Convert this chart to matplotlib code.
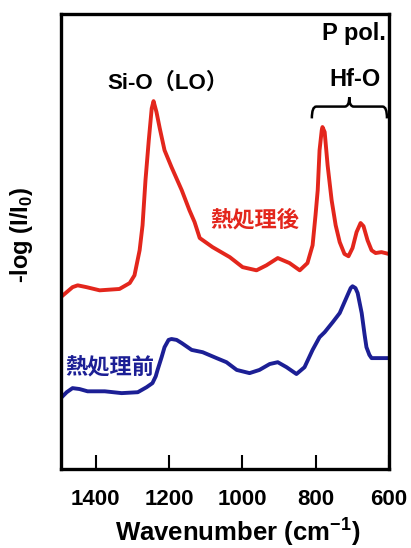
import matplotlib
matplotlib.use("Agg")
import matplotlib.pyplot as plt
from matplotlib.path import Path
from matplotlib.patches import PathPatch

plt.rcParams['font.family'] = ['Liberation Sans', 'Noto Sans CJK JP', 'DejaVu Sans']
plt.rcParams['font.weight'] = 'bold'
plt.rcParams['mathtext.fontset'] = 'custom'
plt.rcParams['mathtext.rm'] = 'Liberation Sans:bold'
plt.rcParams['mathtext.bf'] = 'Liberation Sans:bold'

# IR spectra (p-polarised), absorbance in arbitrary units
after_wn = [1495, 1479, 1463, 1449, 1425, 1389, 1335, 1307, 1294, 1280, 1272, 1264,
            1255, 1247, 1242, 1234, 1225, 1212, 1193, 1165, 1144, 1130, 1116, 1081,
            1034, 999, 961, 934, 903, 871, 843, 822, 808, 800, 794, 789, 783, 781,
            775, 767, 756, 745, 734, 721, 710, 699, 688, 677, 669, 658, 647, 636,
            620, 600]
after_abs = [0.378, 0.389, 0.400, 0.404, 0.400, 0.393, 0.396, 0.409, 0.426, 0.481, 0.536, 0.635,
             0.723, 0.793, 0.809, 0.785, 0.749, 0.701, 0.664, 0.613, 0.569, 0.543, 0.508, 0.488,
             0.466, 0.444, 0.437, 0.448, 0.464, 0.453, 0.437, 0.453, 0.492, 0.558, 0.613, 0.701, 0.745, 0.752,
             0.741, 0.668, 0.591, 0.536, 0.499, 0.473, 0.468, 0.486, 0.521, 0.541, 0.534, 0.503, 0.481, 0.475,
             0.477, 0.473]

before_wn = [1495, 1479, 1463, 1444, 1422, 1375, 1329, 1285, 1261, 1245, 1236, 1231,
             1220, 1212, 1201, 1193, 1179, 1165, 1138, 1108, 1070, 1043, 1015, 980,
             953, 925, 903, 879, 852, 830, 808, 789, 775, 753, 734, 715, 704, 699,
             691, 685, 674, 666, 661, 653, 647, 625, 600]
before_abs = [0.156, 0.169, 0.178, 0.176, 0.171, 0.171, 0.167, 0.169, 0.180, 0.189, 0.204, 0.218,
              0.246, 0.268, 0.284, 0.286, 0.284, 0.277, 0.262, 0.257, 0.244, 0.235, 0.218, 0.211,
              0.218, 0.231, 0.235, 0.224, 0.209, 0.224, 0.262, 0.290, 0.301, 0.323, 0.343, 0.378, 0.398, 0.402,
              0.398, 0.387, 0.343, 0.295, 0.268, 0.251, 0.244, 0.244, 0.244]

xticks = [1400, 1200, 1000, 800, 600]

red = '#e3261c'
blue = '#1c1f95'

fig = plt.figure(figsize=(4.11, 5.48), dpi=100)
ax = fig.add_axes([0.148, 0.144, 0.798, 0.830])

ax.plot(after_wn, after_abs, color=red, lw=2.8, solid_joinstyle='round', solid_capstyle='round')
ax.plot(before_wn, before_abs, color=blue, lw=2.8, solid_joinstyle='round', solid_capstyle='round')

ax.set_xlim(1495, 600)
ax.set_ylim(0, 1)

for s in ax.spines.values():
    s.set_linewidth(2.4)

ax.set_xticks(xticks)
ax.set_xticklabels([str(t) for t in xticks])
ax.tick_params(axis='x', direction='in', length=10, width=1.5, pad=14, labelsize=16)
ax.set_yticks([])

ax.set_xlabel('Wavenumber (cm$^{-1}$)', fontsize=18.5, fontweight='bold')
ax.xaxis.set_label_coords(0.54, -0.102)
ax.set_ylabel('-log (I/I$_0$)', fontsize=17, fontweight='bold')
ax.yaxis.set_label_coords(-0.078, 0.516)

# labels
ax.text(609, 0.958, 'P pol.', ha='right', va='center', fontsize=17, fontweight='bold')
ax.text(1204, 0.848, 'Si-O（LO）', ha='center', va='center', fontsize=16, fontweight='bold',
        family=['Liberation Sans', 'Noto Sans CJK JP'])
ax.text(693, 0.857, 'Hf-O', ha='center', va='center', fontsize=17, fontweight='bold')
ax.text(966, 0.547, '熱処理後', ha='center', va='center', fontsize=16, fontweight='bold',
        color=red, family=['Noto Sans CJK JP'])
ax.text(1362, 0.222, '熱処理前', ha='center', va='center', fontsize=16, fontweight='bold',
        color=blue, family=['Noto Sans CJK JP'])

# curly brace over the Hf-O band
x0, x1, xm = 810, 605, 708
yb, yt, ytip = 0.771, 0.797, 0.818
verts = [(x0, yb), (x0, yt), (x0 - 12, yt),
         (xm + 12, yt), (xm, yt), (xm, ytip),
         (xm, yt), (xm - 12, yt),
         (x1 + 12, yt), (x1, yt), (x1, yb)]
codes = [Path.MOVETO, Path.CURVE3, Path.CURVE3,
         Path.LINETO, Path.CURVE3, Path.CURVE3,
         Path.CURVE3, Path.CURVE3,
         Path.LINETO, Path.CURVE3, Path.CURVE3]
ax.add_patch(PathPatch(Path(verts, codes), fill=False, lw=1.8, color='black'))

fig.savefig('out.png', dpi=100)
